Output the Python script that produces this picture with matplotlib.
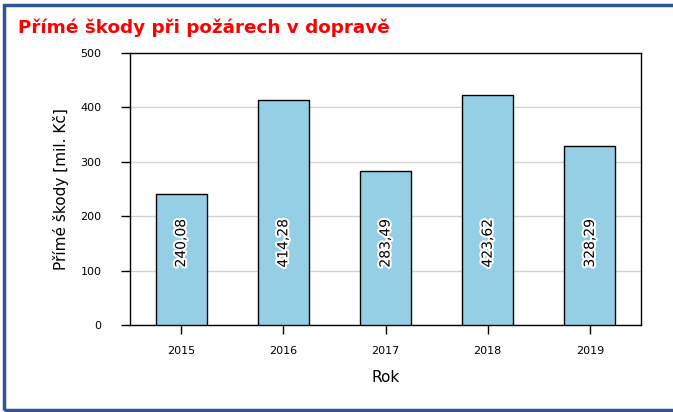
import matplotlib
matplotlib.use("Agg")
import matplotlib.pyplot as plt
import matplotlib.patheffects as pe
from matplotlib.patches import Rectangle

years = ["2015", "2016", "2017", "2018", "2019"]
values = [240.08, 414.28, 283.49, 423.62, 328.29]
value_labels = ["240,08", "414,28", "283,49", "423,62", "328,29"]
label_y = 150

W, H = 673, 412
plt.rcParams['font.family'] = ['DejaVu Sans']
fig = plt.figure(figsize=(W / 100, H / 100), dpi=100)
ax = fig.add_axes([130 / W, 1 - 325 / H, (641 - 130) / W, (325 - 53) / H])

x = list(range(len(years)))
ax.bar(x, values, width=0.5, color='#94CFE6', edgecolor='black', linewidth=1.0, zorder=3)
for xi, lab in zip(x, value_labels):
    ax.text(xi, label_y, lab, rotation=90, ha='center', va='center', fontsize=10,
            color='black', zorder=4,
            path_effects=[pe.withStroke(linewidth=3, foreground='white')])

ax.set_xlim(-0.5, len(years) - 0.5)
ax.set_ylim(0, 500)
ax.set_yticks([0, 100, 200, 300, 400, 500])
ax.set_xticks(x)
ax.set_xticklabels(years)
ax.yaxis.grid(True, color='#D3D3D3', linewidth=1.0, zorder=0)
ax.set_axisbelow(True)
ax.tick_params(axis='y', direction='out', length=6.5, width=1, labelsize=8, pad=14, colors='black')
ax.tick_params(axis='x', direction='out', length=6.5, width=1, labelsize=8, pad=8.5, colors='black')
for s in ax.spines.values():
    s.set_color('black')
    s.set_linewidth(1.0)
ax.set_ylabel("Přímé škody [mil. Kč]", fontsize=11, labelpad=8)
ax.set_xlabel("Rok", fontsize=11, labelpad=10)

fig.text(18 / W, 1 - 33 / H, "Přímé škody při požárech v dopravě", fontsize=13.2,
         fontweight='bold', color='#FF0000', ha='left', va='baseline')

fig.add_artist(Rectangle((3.5 / W, 1 - 410 / H), (690 - 3.5) / W, (410 - 5) / H,
                         transform=fig.transFigure, fill=False, edgecolor='#2F5597',
                         linewidth=2.5, clip_on=False))

fig.savefig("out.png", dpi=100)
